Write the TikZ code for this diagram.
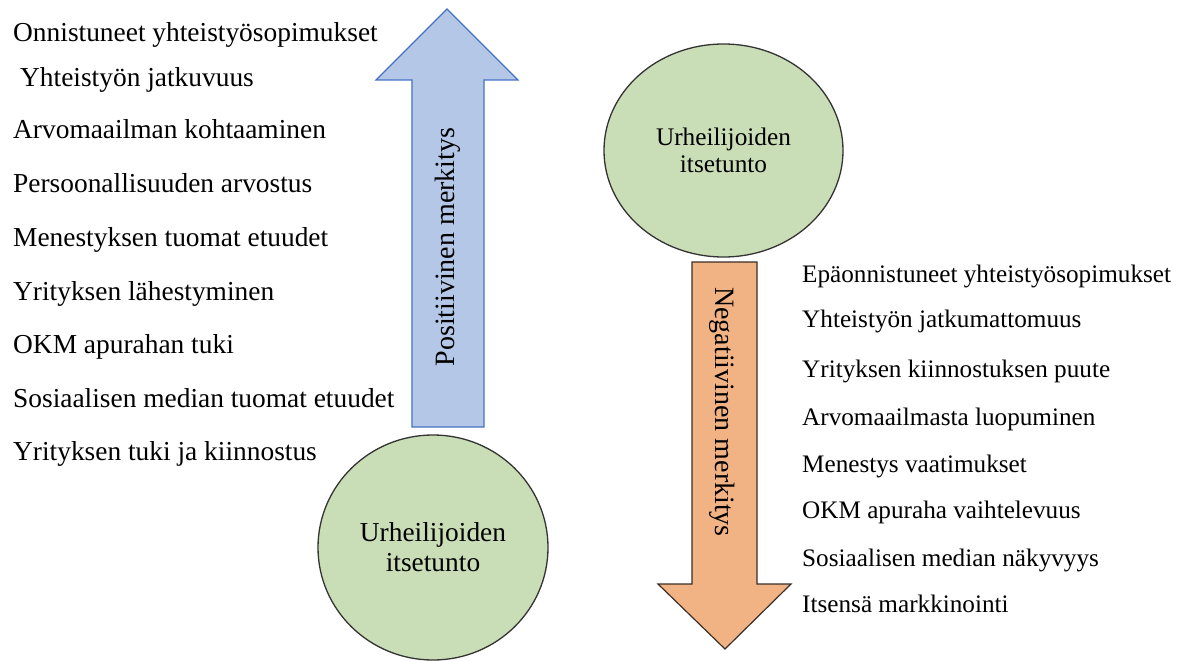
\documentclass[tikz,border=0pt]{standalone}
\usepackage{fontspec}
\setmainfont{Liberation Serif}
\usepackage{tikz}
\usetikzlibrary{shapes.geometric}
\definecolor{posfill}{HTML}{B4C7E7}
\definecolor{posline}{HTML}{4472C4}
\definecolor{negfill}{HTML}{F2B384}
\definecolor{negline}{HTML}{3A2E26}
\definecolor{selffill}{HTML}{C9DEB6}
\definecolor{selfline}{HTML}{333333}
\tikzset{
	item/.style={anchor=base west, inner sep=0pt},
	selfcircle/.style={ellipse, draw=selfline, fill=selffill, line width=1.3pt,
		inner sep=0pt, align=center},
}

\begin{document}
\begin{tikzpicture}[x=1pt, y=-1pt]
	\useasboundingbox (0,0) rectangle (1186,661);
	% positive arrow (up)
	\draw[posline, fill=posfill, line width=1.2pt]
		(412,427) -- (412,80) -- (376,80) -- (447,9) -- (518,80) -- (484,80) -- (484,427) -- cycle;
	\node[rotate=90, inner sep=0pt, font=\fontsize{28}{32}\selectfont] (poslabel) at (448,247)
		{Positiivinen merkitys};
	% negative arrow (down)
	\draw[negline, fill=negfill, line width=1.2pt]
		(692,262) -- (757,262) -- (757,584) -- (791,584) -- (725,649) -- (658,584) -- (692,584) -- cycle;
	\node[rotate=-90, inner sep=0pt, font=\fontsize{28}{32}\selectfont] (neglabel) at (722,412)
		{Negatiivinen merkitys};
	% self-esteem circles
	\node[selfcircle, minimum width=239pt, minimum height=213pt,
		font=\fontsize{25.3}{27}\selectfont] (selftop) at (723.5,150.5)
		{Urheilijoiden\\itsetunto};
	\node[selfcircle, minimum width=230pt, minimum height=225pt,
		font=\fontsize{27.4}{30}\selectfont] (selfbottom) at (433,547.5)
		{Urheilijoiden\\itsetunto};
	% positive items
	\foreach \x/\y/\t [count=\i] in {
		13/42/Onnistuneet yhteistyösopimukset,
		20/87/Yhteistyön jatkuvuus,
		13/138/Arvomaailman kohtaaminen,
		13/192/Persoonallisuuden arvostus,
		13/246/Menestyksen tuomat etuudet,
		13/300/Yrityksen lähestyminen,
		13/353/OKM apurahan tuki,
		13/407/Sosiaalisen median tuomat etuudet,
		13/460/Yrityksen tuki ja kiinnostus}
		\node[item, font=\fontsize{27.4}{32}\selectfont] (pos\i) at (\x,\y) {\t};
	% negative items
	\foreach \y/\t [count=\i] in {
		282/Epäonnistuneet yhteistyösopimukset,
		327/Yhteistyön jatkumattomuus,
		377/Yrityksen kiinnostuksen puute,
		425/Arvomaailmasta luopuminen,
		472/Menestys vaatimukset,
		518/OKM apuraha vaihtelevuus,
		566/Sosiaalisen median näkyvyys,
		612/Itsensä markkinointi}
		\node[item, font=\fontsize{25.2}{30}\selectfont] (neg\i) at (802,\y) {\t};
\end{tikzpicture}
\end{document}
